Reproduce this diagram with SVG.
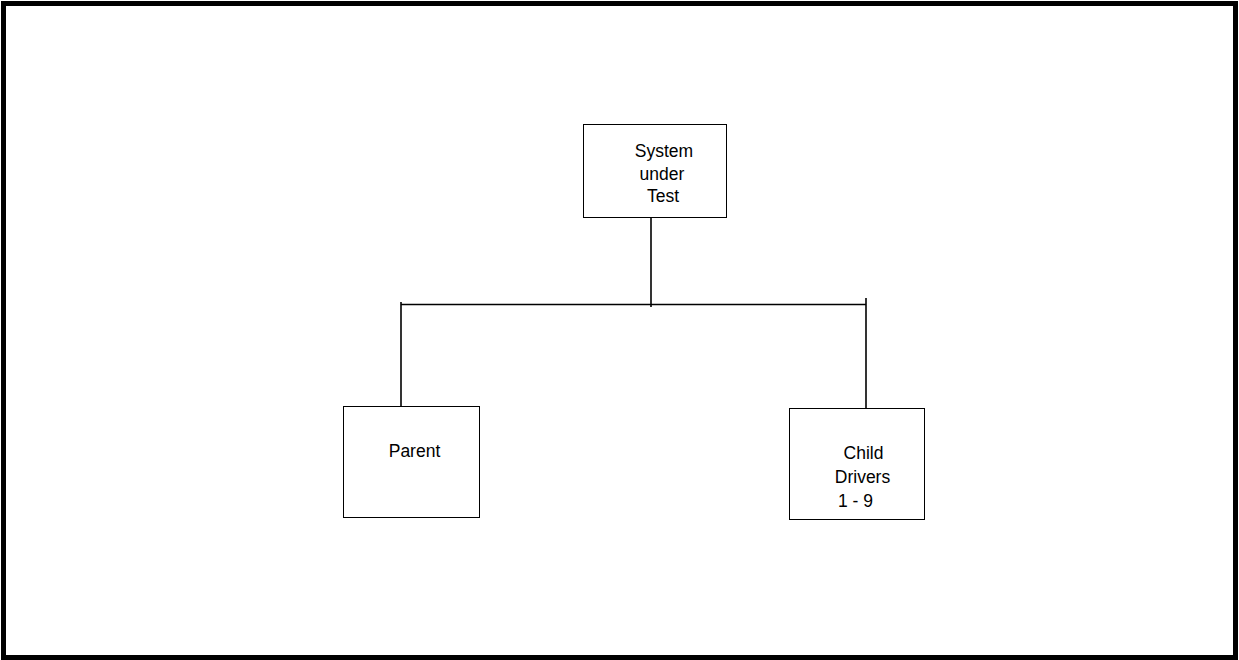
<svg xmlns="http://www.w3.org/2000/svg" width="1239" height="660" viewBox="0 0 1239 660">
<style>
.box{fill:#fff;stroke:#000;stroke-width:1}
.lbl{font-family:"Liberation Sans",Arial,sans-serif;font-size:17.5px;fill:#000;text-anchor:middle}
.con{stroke:#000;stroke-width:1.6;fill:none}
</style>
<rect x="0" y="0" width="1239" height="660" fill="#fff"/>
<rect x="3.5" y="3.5" width="1232" height="654" fill="none" stroke="#000" stroke-width="5"/>
<g id="connectors">
<line class="con" x1="651" y1="217" x2="651" y2="307"/>
<line class="con" x1="401" y1="304.5" x2="866" y2="304.5"/>
<line class="con" x1="401" y1="302" x2="401" y2="406"/>
<line class="con" x1="866" y1="298" x2="866" y2="408"/>
</g>
<g id="system">
<rect class="box" x="583.5" y="124.5" width="143" height="93"/>
<text class="lbl" x="664" y="157">System</text>
<text class="lbl" x="662" y="180">under</text>
<text class="lbl" x="663" y="202">Test</text>
</g>
<g id="parent">
<rect class="box" x="343.5" y="406.5" width="136" height="111"/>
<text class="lbl" x="414.5" y="457">Parent</text>
</g>
<g id="child">
<rect class="box" x="789.5" y="408.5" width="135" height="111"/>
<text class="lbl" x="863.5" y="459">Child</text>
<text class="lbl" x="862.5" y="483">Drivers</text>
<text class="lbl" x="855.5" y="507">1 - 9</text>
</g>
</svg>
